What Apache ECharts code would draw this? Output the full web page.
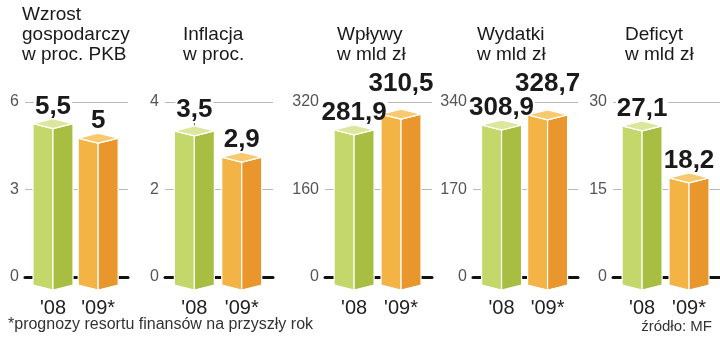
<!DOCTYPE html>
<html><head><meta charset="utf-8">
<script src="https://cdn.jsdelivr.net/npm/echarts@6/dist/echarts.min.js"></script>
<style>html,body{margin:0;padding:0;background:#fff}#c{width:720px;height:342px}</style>
</head><body><div id="c"></div>
<script>
// ---- data ----
const categories = ["'08", "'09*"];
const titles = ["Wzrost\ngospodarczy\nw proc. PKB", "Inflacja\nw proc.", "Wpływy\nw mld zł", "Wydatki\nw mld zł", "Deficyt\nw mld zł"];
const growth = [5.5, 5];
const inflation = [3.5, 2.9];
const revenue = [281.9, 310.5];
const spending = [308.9, 328.7];
const deficit = [27.1, 18.2];
const yMax = [6, 4, 320, 340, 30];
const yStep = [3, 2, 160, 170, 15];
const footnote = '*prognozy resortu finansów na przyszły rok';
const source = 'źródło: MF';

const seriesValues = [growth, inflation, revenue, spending, deficit];

// ---- layout / style ----
const FONT = '"Liberation Sans", Arial, sans-serif';
const panels = [
  {left: 25,  right: 128, titleLeft: 22,  titleTop: 5,  lift: [0, 0]},
  {left: 165, right: 273, titleLeft: 183, titleTop: 25, lift: [4, 0]},
  {left: 325, right: 432, titleLeft: 337, titleTop: 25, lift: [0, 13]},
  {left: 473, right: 578, titleLeft: 477, titleTop: 25, lift: [0, 14]},
  {left: 613, right: 720, titleLeft: 625, titleTop: 25, lift: [0, 0]}
];
const palettes = [
  {front: '#c4d76b', side: '#a8be42', top: '#dce79d'},
  {front: '#f3b445', side: '#e9962d', top: '#f8c96e'}
];
const GRID_TOP = 102, GRID_H = 175;

function fmt(v) { return Number.isInteger(v) ? String(v) : String(v).replace('.', ','); }

const grids = [], xAxes = [], yAxes = [], titleList = [];
const bgSeries = [], barSeries = [], labelSeries = [];

panels.forEach((p, k) => {
  grids.push({left: p.left, top: GRID_TOP, width: p.right - p.left, height: GRID_H, containLabel: false, outerBoundsMode: 'none'});
  xAxes.push({
    type: 'value', gridIndex: k, min: -0.62, max: 1.66,
    axisLabel: {show: false}, axisTick: {show: false}, splitLine: {show: false},
    axisLine: {show: true, onZero: false, lineStyle: {color: '#111', width: 3}}
  });
  yAxes.push({
    type: 'value', gridIndex: k, min: 0, max: yMax[k], interval: yStep[k],
    axisLine: {show: true, lineStyle: {color: '#777', width: 1}},
    axisTick: {show: true, length: 4, lineStyle: {color: '#777'}},
    splitLine: {show: true, lineStyle: {color: '#b8b8b8', width: 1}},
    axisLabel: {margin: 6, fontSize: 16, color: '#555', fontFamily: FONT}
  });
  titleList.push({
    text: titles[k], left: p.titleLeft, top: p.titleTop, padding: 0,
    textStyle: {fontSize: 19, lineHeight: 20, fontWeight: 'normal', color: '#1a1a1a', fontFamily: FONT}
  });
  const data = seriesValues[k].map((v, i) => [i, v]);

  const labelEl = (api, withBg) => {
    const i = api.value(0), v = api.value(1);
    const top = api.coord([i, v]);
    const style = {
      text: fmt(v), x: top[0], y: top[1] - 10 - p.lift[i],
      align: 'center', verticalAlign: 'middle',
      font: 'bold 26px ' + FONT, fill: withBg ? 'rgba(0,0,0,0)' : '#1a1a1a'
    };
    if (withBg) { style.backgroundColor = '#fff'; style.padding = [0, 1]; }
    return {type: 'text', style};
  };

  bgSeries.push({
    type: 'custom', xAxisIndex: k, yAxisIndex: k, data, silent: true,
    renderItem: (params, api) => labelEl(api, true)
  });
  barSeries.push({
    type: 'custom', xAxisIndex: k, yAxisIndex: k, data, silent: true,
    renderItem: (params, api) => {
      const i = api.value(0), v = api.value(1);
      const top = api.coord([i, v]), base = api.coord([i, 0]);
      const c = top[0], hw = 20, d = 5;
      const yt = top[1] + 2, yb = base[1] + 8;
      const L = c - hw, R = c + hw;
      const col = palettes[i];
      const st = (f) => ({fill: f, stroke: '#fff', lineWidth: 1.2});
      return {type: 'group', children: [
        {type: 'polygon', shape: {points: [[L, yt + d], [c, yt + 2 * d], [c, yb + d], [L, yb]]}, style: st(col.front)},
        {type: 'polygon', shape: {points: [[c, yt + 2 * d], [R, yt + d], [R, yb], [c, yb + d]]}, style: st(col.side)},
        {type: 'polygon', shape: {points: [[L, yt + d], [c, yt], [R, yt + d], [c, yt + 2 * d]]}, style: st(col.top)}
      ]};
    }
  });
  labelSeries.push({
    type: 'custom', xAxisIndex: k, yAxisIndex: k, data, silent: true,
    renderItem: (params, api) => {
      const i = api.value(0);
      const base = api.coord([i, 0]);
      return {type: 'group', children: [
        labelEl(api, false),
        {type: 'text', style: {text: categories[i], x: base[0], y: base[1] + 31, align: 'center', verticalAlign: 'middle', font: '20px ' + FONT, fill: '#222'}}
      ]};
    }
  });
});

titleList.push({text: footnote, left: 8, top: 317, padding: 0,
  textStyle: {fontSize: 16, fontWeight: 'normal', color: '#333', fontFamily: FONT}});
titleList.push({text: source, right: 8, top: 319, padding: 0,
  textStyle: {fontSize: 15, fontWeight: 'normal', color: '#333', fontFamily: FONT}});

const chart = echarts.init(document.getElementById('c'), null, {renderer: 'canvas'});
chart.setOption({
  animation: false,
  backgroundColor: '#fff',
  title: titleList,
  grid: grids,
  xAxis: xAxes,
  yAxis: yAxes,
  series: [].concat(bgSeries, barSeries, labelSeries)
});
</script>
</body></html>
